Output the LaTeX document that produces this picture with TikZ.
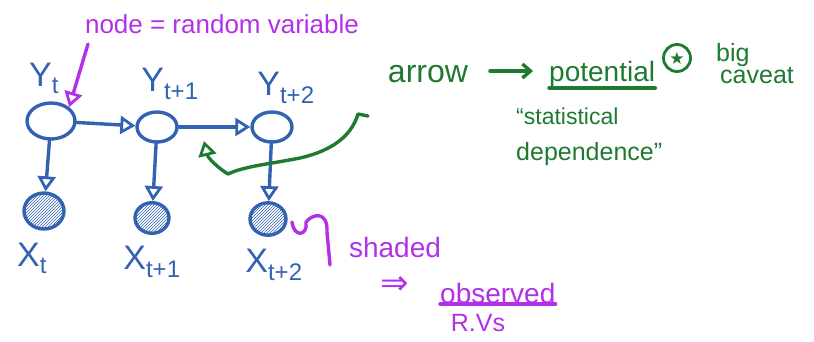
\documentclass[tikz,border=0pt]{standalone}
\usepackage{fontspec}
\setmainfont{Liberation Sans}
\newfontfamily\symf{DejaVu Sans}
\usetikzlibrary{arrows.meta,patterns,shapes.geometric}
\definecolor{inkblue}{RGB}{52,98,178}
\definecolor{inkgreen}{RGB}{30,122,48}
\definecolor{inkpurple}{RGB}{178,48,230}
\tikzset{
  ink/.style={line width=3.4pt,line cap=round,line join=round},
  hidden/.style={draw=inkblue,ink,ellipse,minimum width=#1,minimum height=#1*0.75,inner sep=0pt},
  observed/.style={draw=inkblue,ink,ellipse,minimum width=#1,minimum height=#1*0.9,inner sep=0pt,pattern=north east lines,pattern color=inkblue},
  blbl/.style={text=inkblue,font=\fontsize{34}{36}\selectfont,inner sep=0pt},
  opentip/.style={-{Triangle[open,length=15pt,width=18pt,line width=2.8pt]}},
  barrow/.style={draw=inkblue,ink,opentip},
  gtxt/.style={text=inkgreen,font=\fontsize{28}{30}\selectfont,inner sep=0pt},
  ptxt/.style={text=inkpurple,font=\fontsize{28}{30}\selectfont,inner sep=0pt},
}
\newcommand{\subt}[1]{\textsubscript{\fontsize{24}{24}\selectfont #1}}
\begin{document}
\begin{tikzpicture}[x=1pt,y=-1pt]
\useasboundingbox (0,0) rectangle (814,341);
% hidden nodes
\node[hidden=48pt] (y1) at (51,121) {};
\node[hidden=40pt] (y2) at (157,127) {};
\node[hidden=40pt] (y3) at (272,127) {};
% observed nodes
\node[observed=40pt] (x1) at (44,211) {};
\node[observed=34pt] (x2) at (152,218) {};
\node[observed=36pt] (x3) at (268,219) {};
% labels
\node[blbl] (ly1) at (44,78) {Y\subt{t}};
\node[blbl] (ly2) at (170,84) {Y\subt{t+1}};
\node[blbl] (ly3) at (286,88) {Y\subt{t+2}};
\node[blbl] (lx1) at (32,258) {X\subt{t}};
\node[blbl] (lx2) at (152,262) {X\subt{t+1}};
\node[blbl] (lx3) at (274,265) {X\subt{t+2}};
% arrows
\draw[barrow] (y1) -- (y2);
\draw[barrow] (y2) -- (y3);
\draw[barrow] (y1) -- (x1);
\draw[barrow] (y2) -- (x2);
\draw[barrow] (y3) -- (x3);
% purple annotation
\node[ptxt,font=\fontsize{26}{28}\selectfont] (nrv) at (222,24) {node = random variable};
\coordinate (pa) at (88,44);
\draw[draw=inkpurple,ink,opentip] (pa) -- (y1.north east);
\coordinate (sq1) at (292,222);
\coordinate (sq2) at (330,265);
\draw[inkpurple,ink] (sq1) .. controls (294,238) and (308,236) .. (306,222) .. controls (312,214) and (328,210) .. (327,232) -- (sq2);
\node[ptxt] (shaded) at (395,247) {shaded};
\node[ptxt,font=\symf\fontsize{34}{36}\selectfont] (impl) at (395,286) {⇒};
\node[ptxt,anchor=south west] (obs) at (440,304) {observed};
\draw[inkpurple,ink] (obs.south west) -- (obs.south east);
\node[ptxt,font=\fontsize{25}{28}\selectfont] (rvs) at (478,323) {R.Vs};
% green annotation
\node[gtxt,font=\fontsize{32}{34}\selectfont] (arrow) at (428,74) {arrow};
\node[gtxt,anchor=south west] (pot) at (549,88) {potential};
\draw[inkgreen,ink] (pot.south west) -- (pot.south east);
\coordinate (ga1) at (490,71);
\coordinate (ga2) at (533,71);
\draw[inkgreen,ink,-{Straight Barb[length=8pt,width=14pt]}] (ga1) -- (ga2);
\node[gtxt,draw=inkgreen,circle,line width=2.8pt,inner sep=0pt,minimum size=27pt,font=\symf\fontsize{17}{17}\selectfont] (star) at (677,58) {★};
\node[gtxt,font=\fontsize{25}{26}\selectfont,anchor=west] (big) at (716,55) {big};
\node[gtxt,font=\fontsize{25}{26}\selectfont,anchor=west] (cav) at (720,76) {caveat};
\node[gtxt,font=\fontsize{23}{26}\selectfont,anchor=west] (stat) at (516,116) {``statistical};
\node[gtxt,font=\fontsize{25}{28}\selectfont,anchor=west] (dep) at (516,154) {dependence''};
\coordinate (gs) at (368,116);
\coordinate (ge) at (204,141);
\draw[inkgreen,ink,opentip] (gs) -- (358,114) .. controls (352,134) and (335,150) .. (300,158) .. controls (270,164) and (245,166) .. (228,174) .. controls (218,168) and (208,158) .. (ge);
\end{tikzpicture}
\end{document}
